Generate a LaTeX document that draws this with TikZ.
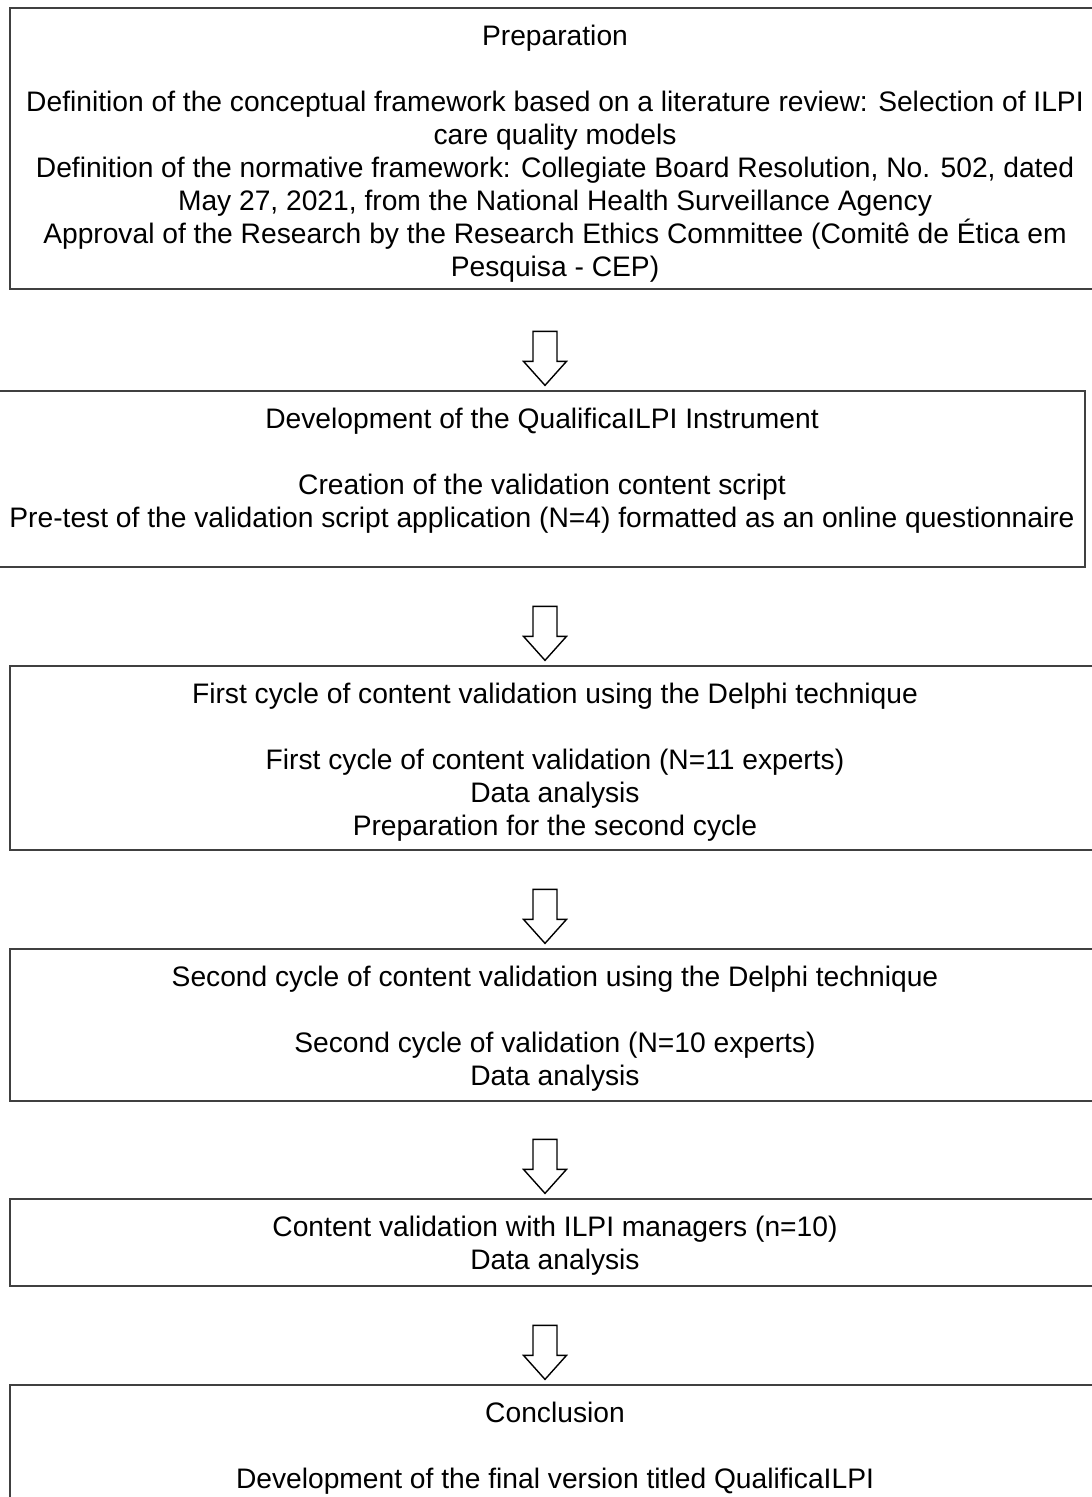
\documentclass[tikz,border=0pt]{standalone}
\usepackage{fontspec}
\setmainfont{Liberation Sans}
\usetikzlibrary{calc}
\usetikzlibrary{positioning}

\begin{document}
\begin{tikzpicture}[x=1pt, y=1pt,
  stepbox/.style = {shape=rectangle, draw=black!75, line width=1.3pt,
    minimum width=1090pt, inner sep=0pt},
  steptext/.style = {align=center, inner sep=0pt,
    font=\fontsize{28.2}{33}\selectfont},
  flowarrow/.style = {draw=black, line width=1.4pt, fill=white}]
  \useasboundingbox (0,0) rectangle (1092,-1497);
  \coordinate (axis) at (545,0);

  \node[stepbox, minimum height=281pt] (prep) at (555,-148.5) {};
  \node[steptext, below=17.5pt of prep.north] (preptext) {Preparation\\[33pt]
    Definition of the conceptual framework based on a literature review: Selection of ILPI\\
    care quality models\\
    Definition of the normative framework: Collegiate Board Resolution, No. 502, dated\\
    May 27, 2021, from the National Health Surveillance Agency\\
    Approval of the Research by the Research Ethics Committee (Comitê de Ética em\\
    Pesquisa - CEP)};

  \node[stepbox, minimum width=1086pt, minimum height=176pt] (dev) at (542,-479) {};
  \node[steptext, below=17.5pt of dev.north] (devtext) {Development of the QualificaILPI Instrument\\[33pt]
    Creation of the validation content script\\
    Pre-test of the validation script application (N=4) formatted as an online questionnaire};

  \node[stepbox, minimum height=184pt] (first) at (555,-758) {};
  \node[steptext, below=17.5pt of first.north] (firsttext) {First cycle of content validation using the Delphi technique\\[33pt]
    First cycle of content validation (N=11 experts)\\
    Data analysis\\
    Preparation for the second cycle};

  \node[stepbox, minimum height=152pt] (second) at (555,-1025) {};
  \node[steptext, below=17.5pt of second.north] (secondtext) {Second cycle of content validation using the Delphi technique\\[33pt]
    Second cycle of validation (N=10 experts)\\
    Data analysis};

  \node[stepbox, minimum height=87pt] (managers) at (555,-1242.5) {};
  \node[steptext, below=17.5pt of managers.north] (managerstext) {Content validation with ILPI managers (n=10)\\
    Data analysis};

  \node[stepbox, minimum height=125pt] (concl) at (555,-1447.5) {};
  \node[steptext, below=17.5pt of concl.north] (concltext) {Conclusion\\[33pt]
    Development of the final version titled QualificaILPI};

  % hollow arrows between the steps
  \foreach \b in {dev, first, second, managers, concl}
    \draw[flowarrow] ($(axis |- \b.north)+(0,5)$) -- ++(-21.5,24) -- ++(9.5,0)
      -- ++(0,30) -- ++(24,0) -- ++(0,-30) -- ++(9.5,0) -- cycle;
\end{tikzpicture}
\end{document}
